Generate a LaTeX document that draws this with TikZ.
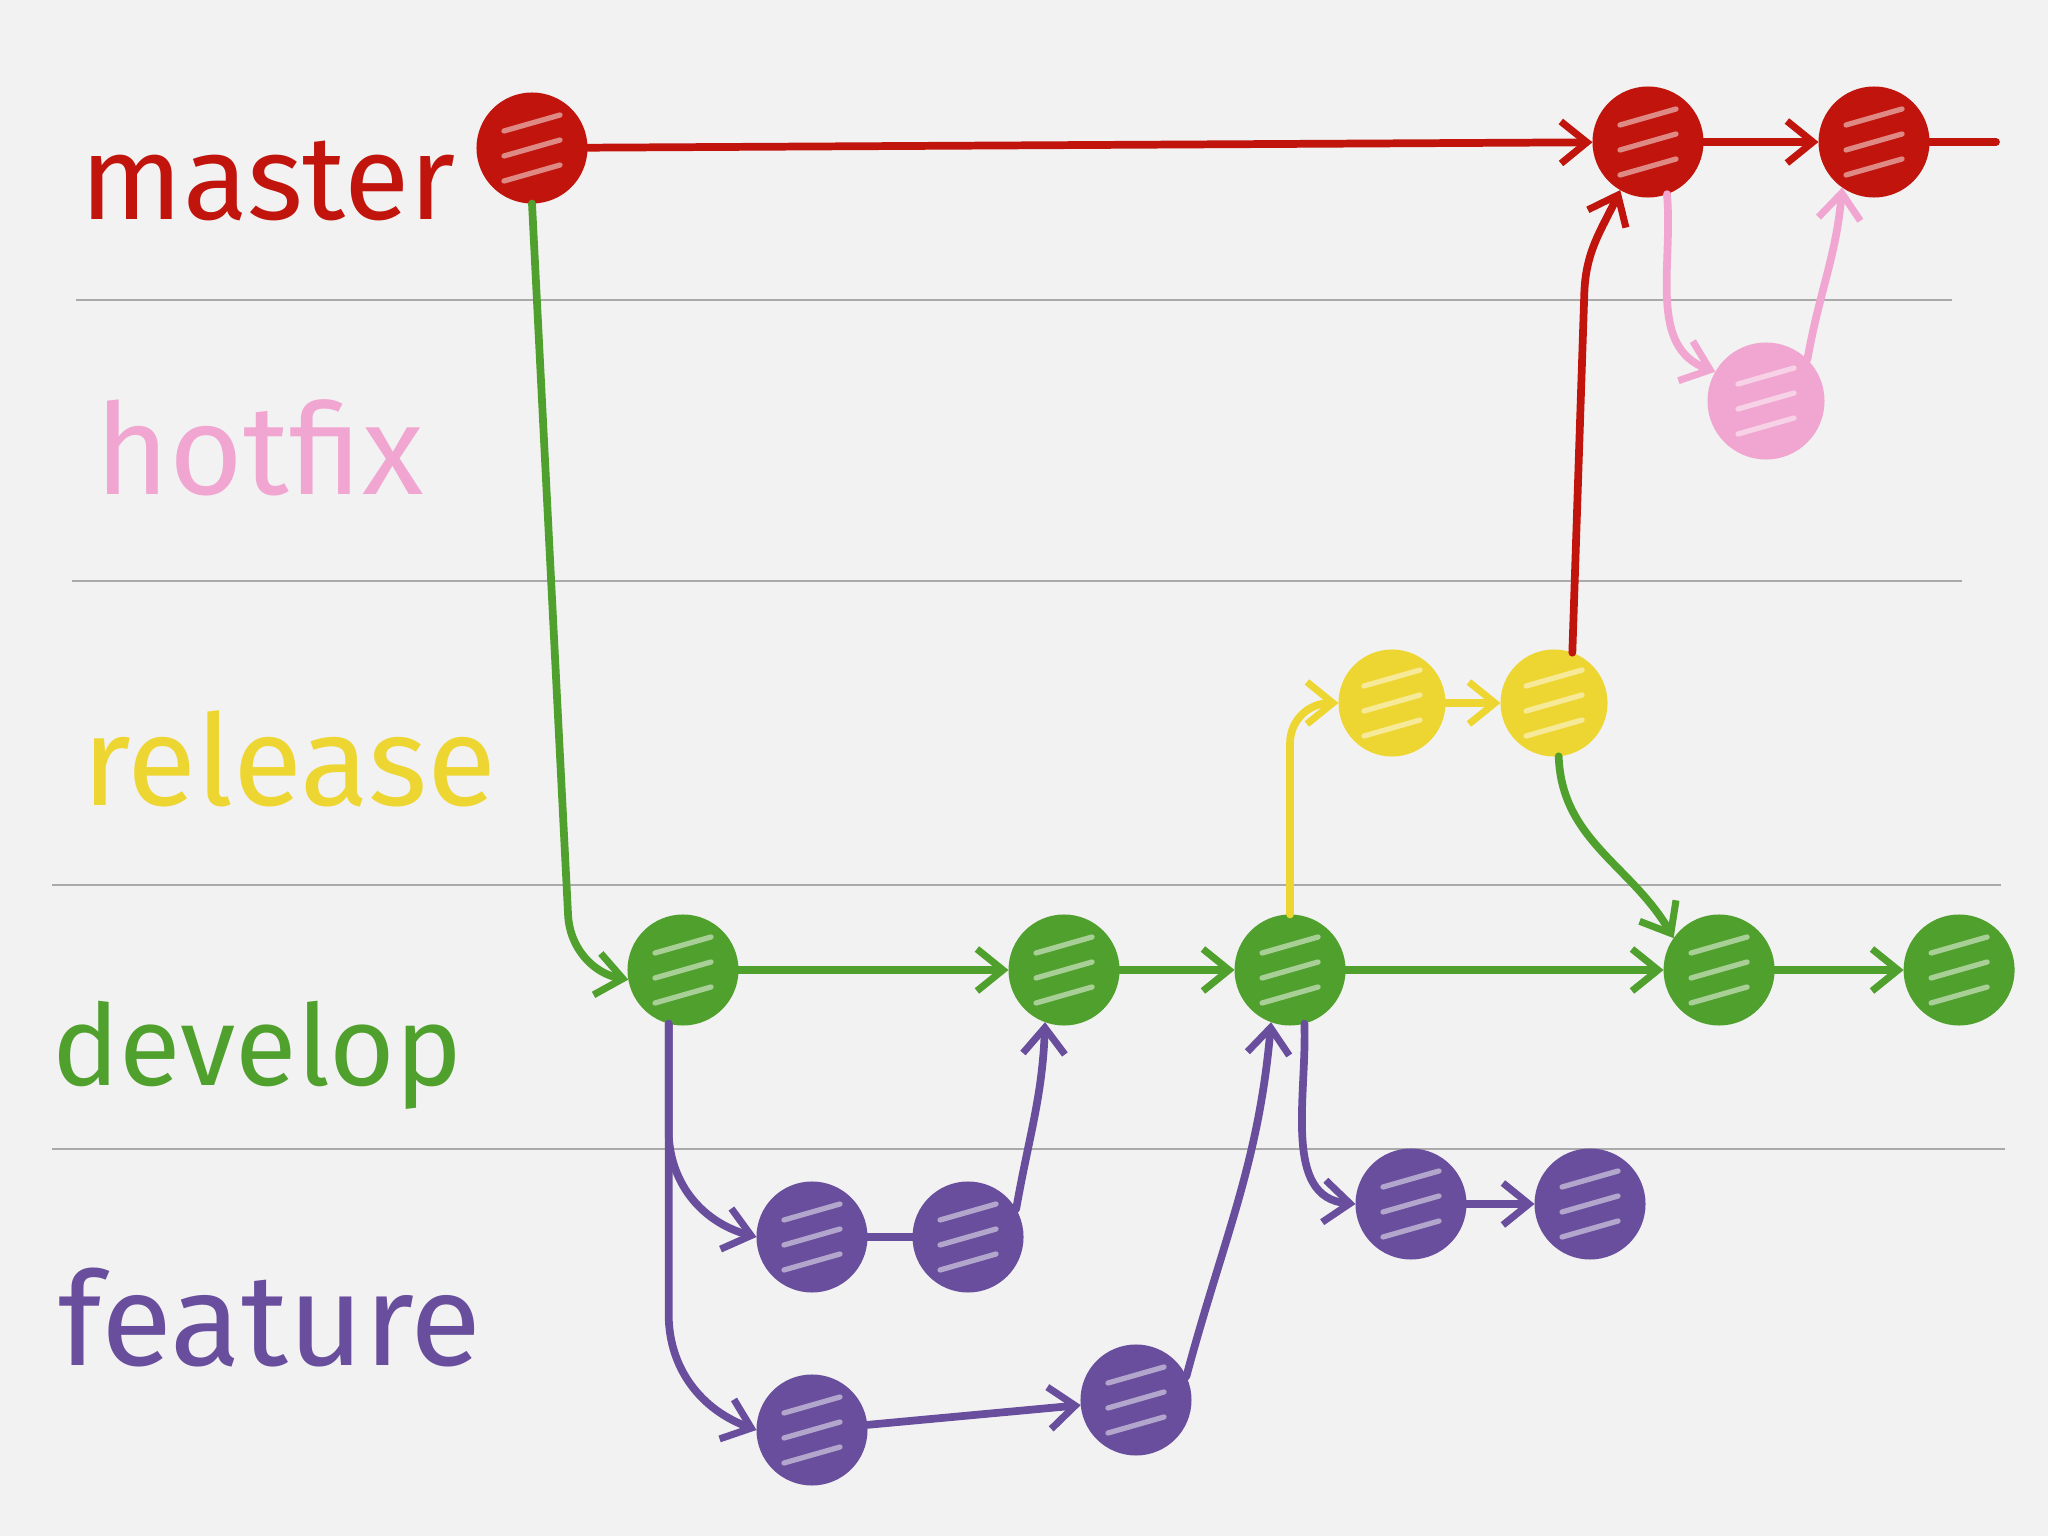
\documentclass[tikz,border=0pt]{standalone}
\usepackage{fontspec}
\setmainfont{Fira Sans}
\usepackage{xcolor}
\usetikzlibrary{positioning,arrows.meta,calc}

\definecolor{mred}{RGB}{192,20,12}
\definecolor{hpink}{RGB}{240,166,208}
\definecolor{ryellow}{RGB}{238,214,50}
\definecolor{dgreen}{RGB}{80,160,46}
\definecolor{fpurple}{RGB}{104,78,156}
\definecolor{paper}{RGB}{242,242,242}
\definecolor{rulegrey}{RGB}{170,170,170}

\tikzset{
  commit/.style={circle, draw=#1, fill=#1, line width=2pt, minimum size=1.04cm, inner sep=0pt,
    path picture={\foreach \k in {-2.5,0,2.5}
      \draw[white, opacity=0.5, line width=1.5pt, line cap=round]
        ([xshift=-2.8mm, yshift=\k mm-0.8mm]path picture bounding box.center) -- ++(5.6mm,1.6mm);}},
  branch/.style={text=#1, font=\fontsize{36}{42}\selectfont, inner sep=0pt, anchor=base west},
  flow/.style={draw=#1, line width=2.2pt, line cap=round,
    -{Straight Barb[length=2.6mm,width=4.2mm,line width=2pt]}},
  plain/.style={draw=#1, line width=2.2pt, line cap=round},
  sep/.style={draw=rulegrey, line width=0.6pt}
}

\begin{document}
\begin{tikzpicture}[node distance=1cm]
    \fill[paper] (0,0) rectangle (20.48,-15.36);
    \useasboundingbox (0,0) rectangle (20.48,-15.36);
    % paper rules
    \foreach \y/\a/\b in {3.00/0.76/19.52, 5.81/0.72/19.62, 8.85/0.52/20.01, 11.49/0.52/20.05}
        \draw[sep] (\a,-\y) -- (\b,-\y);

    % branch names
    \node[branch=mred, font=\fontsize{34}{40}\selectfont] (Lm) at (0.80,-2.20) {master};
    \node[branch=hpink] (Lh) at (0.95,-4.95) {hotfix};
    \node[branch=ryellow] (Lr) at (0.82,-8.05) {release};
    \node[branch=dgreen, font=\fontsize{32}{38}\selectfont] (Ld) at (0.52,-10.85) {develop};
    \node[branch=fpurple, font=\fontsize{37}{43}\selectfont] (Lf) at (0.58,-13.65) {feature};

    % master
    \node[commit=mred] (m1) at (5.32,-1.48) {};
    \node[commit=mred] (m2) at (16.48,-1.42) {};
    \node[commit=mred, right=1.15cm of m2] (m3) {};
    \coordinate (mEnd) at (19.96,-1.42);
    % hotfix
    \node[commit=hpink, minimum size=1.1cm] (h) at (17.66,-4.01) {};
    % release
    \node[commit=ryellow, minimum size=1cm] (r1) at (13.92,-7.03) {};
    \node[commit=ryellow, minimum size=1cm, right=0.55cm of r1] (r2) {};
    % develop
    \node[commit=dgreen] (d1) at (6.83,-9.70) {};
    \node[commit=dgreen, right=2.70cm of d1] (d2) {};
    \node[commit=dgreen, right=1.15cm of d2] (d3) {};
    \node[commit=dgreen, right=3.18cm of d3] (d4) {};
    \node[commit=dgreen, right=1.29cm of d4] (d5) {};
    % feature
    \node[commit=fpurple] (f1) at (8.12,-12.37) {};
    \node[commit=fpurple, right=0.45cm of f1] (f2) {};
    \node[commit=fpurple] (f3) at (14.11,-12.04) {};
    \node[commit=fpurple, right=0.68cm of f3] (f4) {};
    \node[commit=fpurple] (f5) at (8.12,-14.30) {};
    \node[commit=fpurple] (f6) at (11.36,-14.00) {};

    % master line
    \draw[flow=mred] (m1) -- (m2);
    \draw[flow=mred] (m2) -- (m3);
    \draw[plain=mred] (m3) -- (mEnd);
    % develop
    \draw[flow=dgreen] (m1.south) -- ++(0.36,-7.1) to[out=-88,in=170] (d1.190);
    \draw[flow=dgreen] (d1) -- (d2);
    \draw[flow=dgreen] (d2) -- (d3);
    \draw[flow=dgreen] (d3) -- (d4);
    \draw[flow=dgreen] (d4) -- (d5);
    % release
    \draw[flow=ryellow, rounded corners=4mm] (d3.north) |- (r1.west);
    \draw[flow=ryellow] (r1) -- (r2);
    \draw[flow=mred] (r2.70) -- ++(0.12,3.6) to[out=88,in=-115] (m2.240);
    \draw[flow=dgreen] (r2.275) to[out=-88,in=120] (d4.145);
    % hotfix
    \draw[flow=hpink] (m2.290) to[out=-85,in=160] (h.150);
    \draw[flow=hpink] (h.45) to[out=80,in=-95] (m3.235);
    % feature
    \draw[flow=fpurple] (d1.255) -- ++(0,-1.1) to[out=-88,in=165] (f1.west);
    \draw[flow=fpurple] (d1.255) -- ++(0,-2.9) to[out=-90,in=160] (f5.west);
    \draw[plain=fpurple] (f1) -- (f2);
    \draw[flow=fpurple] (f2.30) to[out=80,in=-92] (d2.250);
    \draw[flow=fpurple] (f5) -- (f6);
    \draw[flow=fpurple] (f6.25) to[out=75,in=-95] (d3.250);
    \draw[flow=fpurple] (d3.285) to[out=-88,in=175] (f3.west);
    \draw[flow=fpurple] (f3) -- (f4);
\end{tikzpicture}
\end{document}
